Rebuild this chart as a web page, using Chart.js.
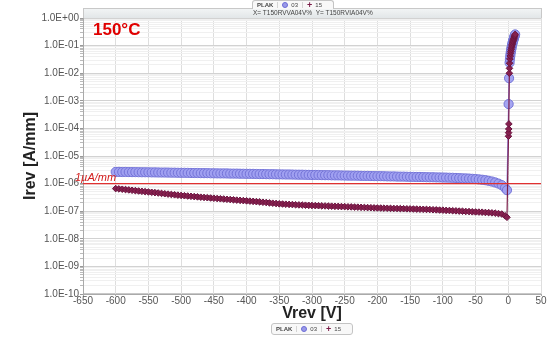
<!DOCTYPE html>
<html>
<head>
<meta charset="utf-8">
<script src="https://cdn.jsdelivr.net/npm/chart.js@4.4.1/dist/chart.umd.min.js"></script>
<style>
  html, body { margin: 0; padding: 0; background: #fff; }
  #wrap { position: relative; width: 559px; height: 339px; font-family: "Liberation Sans", Arial, sans-serif; }
  #chart { position: absolute; left: 0; top: 0; }
  .temp { position: absolute; left: 93px; top: 20px; font-size: 17px; font-weight: bold; color: #e00000; }
  .tab { position: absolute; box-sizing: border-box; background: #f8f8f8; border: 1px solid #c4c4c4; font-size: 6px; color: #444; display: flex; align-items: center; white-space: nowrap; }
  .tab span { padding: 0 4px; border-left: 1px solid #d4d4d4; display: flex; align-items: center; gap: 3px; }
  .tab span:first-child { border-left: none; font-weight: bold; }
  .dot { display: inline-block; width: 4px; height: 4px; border-radius: 50%; background: #9a9ae8; border: 1px solid #6b6bd6; }
  .plus { color: #7b1c48; font-weight: bold; font-size: 9px; line-height: 6px; }
  .hdr { position: absolute; left: 253px; top: 9px; font-size: 6.5px; color: #444; white-space: nowrap; }
</style>
</head>
<body>
<div id="wrap">
  <canvas id="chart" width="559" height="339"></canvas>
  <div class="temp">150°C</div>
  <div class="tab" style="left:252px; top:0; width:82px; height:9px; border-bottom:none; border-radius:3px 3px 0 0;">
    <span>PLAK</span><span><i class="dot"></i>03</span><span><b class="plus">+</b>15</span>
  </div>
  <div class="hdr">X= T150RVVA04V%&nbsp;&nbsp;Y= T150RVIA04V%</div>
  <div class="tab" style="left:271px; top:323px; width:82px; height:12px; border-radius:3px;">
    <span>PLAK</span><span><i class="dot"></i>03</span><span><b class="plus">+</b>15</span>
  </div>
</div>
<script>
// reverse sweep voltages [V]
const vRev = [-600, -595, -590, -585, -580, -575, -570, -565, -560, -555,
  -550, -545, -540, -535, -530, -525, -520, -515, -510, -505,
  -500, -495, -490, -485, -480, -475, -470, -465, -460, -455,
  -450, -445, -440, -435, -430, -425, -420, -415, -410, -405,
  -400, -395, -390, -385, -380, -375, -370, -365, -360, -355,
  -350, -345, -340, -335, -330, -325, -320, -315, -310, -305,
  -300, -295, -290, -285, -280, -275, -270, -265, -260, -255,
  -250, -245, -240, -235, -230, -225, -220, -215, -210, -205,
  -200, -195, -190, -185, -180, -175, -170, -165, -160, -155,
  -150, -145, -140, -135, -130, -125, -120, -115, -110, -105,
  -100, -95, -90, -85, -80, -75, -70, -65, -60, -55,
  -50, -45, -40, -35, -30, -25, -20, -15, -10, -5, -2];

// device 03, reverse current [uA/mm]
const iRev03 = [2.65, 2.66, 2.63, 2.64, 2.62, 2.61, 2.61, 2.59, 2.58, 2.58,
  2.57, 2.55, 2.55, 2.53, 2.52, 2.52, 2.51, 2.49, 2.49, 2.47,
  2.46, 2.46, 2.45, 2.43, 2.42, 2.42, 2.40, 2.39, 2.39, 2.37,
  2.36, 2.35, 2.34, 2.34, 2.33, 2.31, 2.30, 2.30, 2.28, 2.27,
  2.26, 2.26, 2.25, 2.23, 2.22, 2.22, 2.20, 2.19, 2.19, 2.17,
  2.16, 2.15, 2.14, 2.14, 2.13, 2.11, 2.10, 2.10, 2.08, 2.07,
  2.06, 2.06, 2.05, 2.03, 2.02, 2.02, 2.00, 1.99, 1.99, 1.97,
  1.96, 1.95, 1.94, 1.94, 1.93, 1.91, 1.90, 1.90, 1.88, 1.87,
  1.86, 1.86, 1.85, 1.83, 1.82, 1.82, 1.80, 1.79, 1.79, 1.77,
  1.76, 1.75, 1.74, 1.74, 1.73, 1.71, 1.70, 1.70, 1.68, 1.67,
  1.66, 1.65, 1.63, 1.62, 1.60, 1.58, 1.56, 1.54, 1.52, 1.49,
  1.46, 1.42, 1.38, 1.33, 1.26, 1.19, 1.10, 1.00, 0.88, 0.70, 0.58];

// device 15, reverse current [uA/mm]
const iRev15 = [0.660, 0.642, 0.625, 0.607, 0.590, 0.572, 0.555, 0.540, 0.525, 0.511,
  0.498, 0.484, 0.470, 0.456, 0.442, 0.429, 0.417, 0.405, 0.393, 0.382,
  0.372, 0.363, 0.355, 0.346, 0.338, 0.330, 0.322, 0.315, 0.308, 0.301,
  0.295, 0.288, 0.282, 0.276, 0.270, 0.264, 0.258, 0.252, 0.247, 0.242,
  0.237, 0.232, 0.227, 0.222, 0.217, 0.211, 0.206, 0.200, 0.195, 0.190,
  0.185, 0.182, 0.179, 0.176, 0.174, 0.171, 0.169, 0.167, 0.165, 0.163,
  0.161, 0.159, 0.158, 0.156, 0.155, 0.153, 0.152, 0.150, 0.149, 0.147,
  0.146, 0.144, 0.143, 0.141, 0.140, 0.138, 0.137, 0.135, 0.134, 0.132,
  0.131, 0.130, 0.129, 0.128, 0.127, 0.126, 0.125, 0.124, 0.123, 0.122,
  0.121, 0.120, 0.119, 0.118, 0.117, 0.116, 0.115, 0.113, 0.112, 0.110,
  0.109, 0.107, 0.106, 0.104, 0.103, 0.101, 0.100, 0.098, 0.097, 0.095,
  0.094, 0.093, 0.092, 0.090, 0.089, 0.087, 0.085, 0.082, 0.079, 0.068, 0.060];

// forward part [V] and current [A/mm]
const vFwd03 = [0.5, 1.2, 2.0, 2.5, 3.0, 3.5, 4.0, 4.5, 5.0, 5.5,
  6.0, 6.5, 7.0, 7.5, 8.0, 8.5, 9.0, 9.5, 10.0, 10.5];
const iFwd03 = [7.6e-4, 6.6e-3, 2.4e-2, 3.2e-2, 4.1e-2, 5.1e-2, 6.1e-2, 7.2e-2, 8.4e-2, 9.6e-2,
  0.109, 0.123, 0.137, 0.151, 0.166, 0.182, 0.199, 0.217, 0.235, 0.254];
const vFwd15 = [0.3, 0.5, 0.7, 0.9, 1.6, 1.8, 2.0, 2.5, 3.0, 3.5, 4.0, 4.5, 5.0, 5.5,
  6.0, 6.5, 7.0, 7.5, 8.0, 8.5, 9.0, 9.5, 10.0, 10.5];
const iFwd15 = [5.2e-5, 7.0e-5, 9.5e-5, 1.45e-4, 1.0e-2, 1.5e-2, 2.3e-2, 3.3e-2, 4.2e-2, 5.2e-2, 6.2e-2, 7.3e-2, 8.5e-2, 9.7e-2,
  0.110, 0.124, 0.138, 0.152, 0.167, 0.183, 0.200, 0.218, 0.236, 0.255];

// 1 uA/mm limit
const limitV = [-650, 50];
const limitI = [1e-6, 1e-6];

const decades = [1e-10, 1e-9, 1e-8, 1e-7, 1e-6, 1e-5, 1e-4, 1e-3, 1e-2, 1e-1, 1];

const toPts = (xs, ys, k) => xs.map((x, i) => ({ x: x, y: ys[i] * k }));
const isMajor = (v) => { const l = Math.log10(v); return Math.abs(l - Math.round(l)) < 1e-6; };
const expLabel = (v) => {
  const e = Math.round(Math.log10(v));
  return '1.0E' + (e < 0 ? '-' : '+') + String(Math.abs(e)).padStart(2, '0');
};
const FONT = '"Liberation Sans", Arial, sans-serif';

const decor = {
  id: 'decor',
  beforeDraw(chart) {
    const { ctx, chartArea: a } = chart;
    ctx.save();
    const g = ctx.createLinearGradient(0, a.top - 10, 0, a.top);
    g.addColorStop(0, '#f3f5f6');
    g.addColorStop(1, '#e2e6e8');
    ctx.fillStyle = g;
    ctx.fillRect(a.left, a.top - 10, a.right - a.left, 10);
    ctx.strokeStyle = '#c8c8c8';
    ctx.lineWidth = 1;
    ctx.strokeRect(a.left + 0.5, a.top - 9.5, a.right - a.left, a.bottom - a.top + 9);
    ctx.restore();
  },
  afterDatasetsDraw(chart) {
    const { ctx, scales } = chart;
    ctx.save();
    ctx.fillStyle = '#d42020';
    ctx.font = 'italic 11px ' + FONT;
    ctx.fillText('1µA/mm', scales.x.getPixelForValue(-650) - 8, scales.y.getPixelForValue(1e-6) - 3);
    ctx.restore();
  }
};

new Chart(document.getElementById('chart'), {
  type: 'line',
  data: {
    datasets: [
      {
        label: 'limit',
        data: toPts(limitV, limitI, 1),
        borderColor: '#e03030',
        borderWidth: 1.2,
        pointRadius: 0
      },
      {
        label: '15',
        data: toPts(vRev, iRev15, 1e-6).concat(toPts(vFwd15, iFwd15, 1)),
        borderColor: '#7b1c48',
        borderWidth: 1.2,
        pointStyle: 'rectRot',
        pointRadius: 3.3,
        pointBackgroundColor: '#86204e',
        pointBorderColor: '#6a1440',
        pointBorderWidth: 1
      },
      {
        label: '03',
        data: toPts(vRev, iRev03, 1e-6).concat(toPts(vFwd03, iFwd03, 1)),
        borderColor: '#8a7ad8',
        borderWidth: 1.2,
        pointStyle: 'circle',
        pointRadius: 4.6,
        pointBackgroundColor: 'rgba(160,160,240,0.95)',
        pointBorderColor: '#7474d8',
        pointBorderWidth: 1
      }
    ]
  },
  options: {
    responsive: false,
    animation: false,
    devicePixelRatio: 1,
    layout: { padding: { left: 21, right: 18, top: 18, bottom: 17 } },
    plugins: { legend: { display: false }, tooltip: { enabled: false } },
    scales: {
      x: {
        type: 'linear',
        min: -650,
        max: 50,
        afterFit: (s) => { s.height = 28; },
        ticks: { stepSize: 50, padding: 0, color: '#555', font: { family: FONT, size: 10, lineHeight: 1 } },
        grid: { color: '#dedede', tickLength: 2, tickColor: '#aaa' },
        border: { color: '#aaa' },
        title: { display: true, text: 'Vrev [V]', color: '#222', padding: 0, font: { family: FONT, size: 16, weight: 'bold', lineHeight: 1 } }
      },
      y: {
        type: 'logarithmic',
        min: 1e-10,
        max: 1,
        afterFit: (s) => { s.width = 62; },
        afterBuildTicks: (s) => {
          const t = [];
          decades.forEach((d) => {
            t.push({ value: d });
            if (d < 1) for (let k = 2; k <= 9; k++) t.push({ value: d * k });
          });
          s.ticks = t;
        },
        ticks: {
          autoSkip: false,
          padding: 1,
          color: '#555',
          font: { family: FONT, size: 10 },
          callback: (v) => isMajor(v) ? expLabel(v) : ''
        },
        grid: {
          color: (c) => isMajor(c.tick.value) ? '#d2d2d2' : '#f0f0f0',
          tickLength: 3,
          tickColor: (c) => isMajor(c.tick.value) ? '#999' : '#bbb'
        },
        border: { color: '#aaa' },
        title: { display: true, text: 'Irev [A/mm]', color: '#222', padding: 0, font: { family: FONT, size: 16, weight: 'bold' } }
      }
    }
  },
  plugins: [decor]
});
</script>
</body>
</html>
